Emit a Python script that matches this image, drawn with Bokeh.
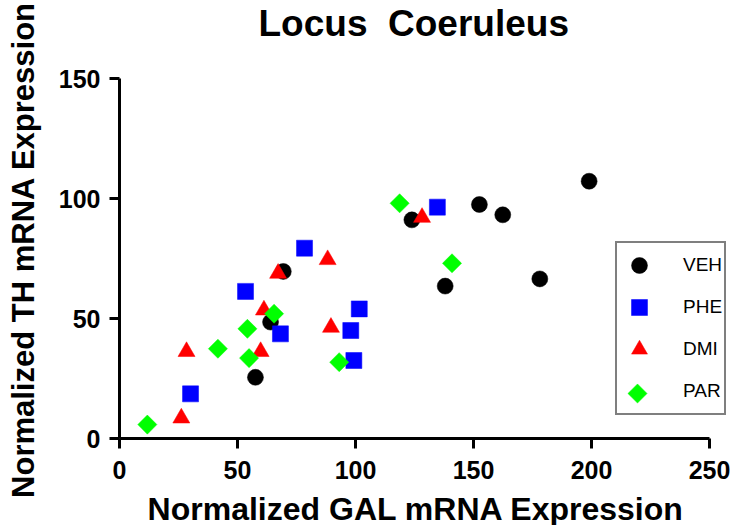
import math
from bokeh.plotting import figure
from bokeh.models import Range1d, Legend, LegendItem, FixedTicker, Title
from bokeh.embed import file_html
from bokeh.resources import INLINE

veh_x = [57.6, 64.0, 69.4, 123.9, 152.5, 162.4, 199.0, 138.0, 178.1]
veh_y = [25.5, 48.5, 69.6, 91.1, 97.5, 93.2, 107.2, 63.5, 66.5]

phe_x = [30.1, 53.4, 68.2, 78.4, 134.7, 101.6, 98.0, 99.3]
phe_y = [18.6, 61.3, 43.6, 79.3, 96.4, 54.0, 45.0, 32.5]

dmi_x = [26.2, 28.4, 59.8, 61.2, 67.2, 88.2, 89.6, 128.2]
dmi_y = [8.5, 36.2, 36.2, 53.5, 68.8, 74.5, 46.3, 92.1]

par_x = [11.8, 41.7, 54.2, 54.9, 65.5, 93.1, 118.7, 140.9]
par_y = [5.8, 37.4, 45.7, 33.5, 52.0, 31.8, 98.0, 73.0]

x_ticks = [0, 50, 100, 150, 200, 250]
y_ticks = [0, 50, 100, 150]
series_labels = ["VEH", "PHE", "DMI", "PAR"]

FONT = "Liberation Sans"
NBSP = "\u00a0"

FRAME_W, FRAME_H = 611, 360
X_END = 258.9
p = figure(width=733, height=525, output_backend="svg", toolbar_location=None,
           x_range=Range1d(0, X_END), y_range=Range1d(0, 150),
           frame_width=FRAME_W, frame_height=FRAME_H,
           min_border_left=119, min_border_top=78, min_border_right=3, min_border_bottom=87)

p.title = Title(text="Locus" + NBSP + " Coeruleus", align="left", vertical_align="top",
                text_font=FONT, text_color="black",
                text_font_size="37px", text_font_style="bold", standoff=0, offset=139)
# empty spacer between the title and the plot area
p.add_layout(Title(text=" ", text_font_size="28px", standoff=0), "above")

p.grid.visible = False
p.outline_line_color = None
p.background_fill_color = "white"
p.border_fill_color = "white"

for ax in (p.xaxis[0], p.yaxis[0]):
    ax.axis_line_width = 3
    ax.axis_line_color = "black"
    ax.major_tick_line_width = 3
    ax.major_tick_line_color = "black"
    ax.major_tick_out = 10
    ax.major_tick_in = 0
    ax.minor_tick_line_color = None
    ax.major_label_text_font = FONT
    ax.major_label_text_font_style = "bold"
    ax.major_label_text_font_size = "25px"
    ax.major_label_text_color = "black"
    ax.axis_label_text_font = FONT
    ax.axis_label_text_font_style = "bold"
    ax.axis_label_text_color = "black"

p.xaxis[0].axis_label_text_font_size = "32px"
p.yaxis[0].axis_label_text_font_size = "31px"
p.xaxis[0].bounds = (0, 250)
p.xaxis[0].ticker = FixedTicker(ticks=x_ticks)
p.yaxis[0].ticker = FixedTicker(ticks=y_ticks)
p.xaxis[0].major_label_standoff = 12
p.yaxis[0].major_label_standoff = 9
# non-breaking spaces nudge the centred labels onto the axes' own centres
p.xaxis[0].axis_label = "Normalized GAL mRNA Expression" + NBSP * 2
p.yaxis[0].axis_label = NBSP * 2 + "Normalized TH mRNA Expression"
p.xaxis[0].axis_label_standoff = 9
p.yaxis[0].axis_label_standoff = 15

r_veh = p.scatter(veh_x, veh_y, marker="circle", size=16, fill_color="black", line_color="black", line_width=0.5)
r_phe = p.scatter(phe_x, phe_y, marker="square", size=16, fill_color="#0000FF", line_color="#0000FF", line_width=0.5)
r_dmi = p.scatter(dmi_x, dmi_y, marker="triangle", size=17, fill_color="#FF0000", line_color="#FF0000", line_width=0.5)
PAR_STYLE = dict(marker="square", angle=math.pi / 4, size=13.5,
                 fill_color="#00FF00", line_color="#00FF00", line_width=0.5)
r_par = p.scatter(par_x, par_y, **PAR_STYLE)

# legend placement (screen pixels inside the frame, from its bottom-left)
LEG_LOC = (496, 23)
GLYPH = 40
PAD = 2
SPACING = 2

# invisible stand-in for the PAR legend entry (legend keys ignore marker angle);
# the rotated key itself is drawn at the key slot position
r_par_key_blank = p.scatter(x=[], y=[], marker="square", fill_alpha=0, line_alpha=0)

legend = Legend(items=[LegendItem(label=series_labels[0], renderers=[r_veh]),
                       LegendItem(label=series_labels[1], renderers=[r_phe]),
                       LegendItem(label=series_labels[2], renderers=[r_dmi]),
                       LegendItem(label=series_labels[3], renderers=[r_par_key_blank])],
                location=LEG_LOC,
                glyph_width=GLYPH, glyph_height=GLYPH, label_height=GLYPH,
                spacing=SPACING, padding=PAD, margin=0, label_standoff=24,
                label_text_font=FONT, label_text_font_size="19px", label_text_color="black",
                border_line_color="black", border_line_width=2,
                background_fill_alpha=0.0)
p.add_layout(legend, "center")

# position of the bottom legend key slot, converted to data units
key_sx = LEG_LOC[0] + PAD + GLYPH / 2
key_sy = LEG_LOC[1] + PAD + GLYPH / 2
key_x = key_sx * X_END / FRAME_W
key_y = key_sy * 150 / FRAME_H
p.scatter(x=[key_x], y=[key_y], **PAR_STYLE)

open("out.html", "w").write(file_html(p, INLINE))
